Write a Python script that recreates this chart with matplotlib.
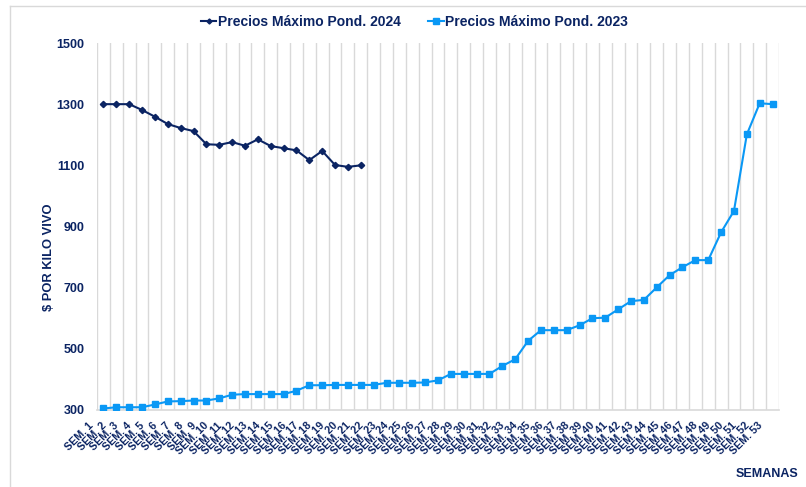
import matplotlib
matplotlib.use('Agg')
import matplotlib.pyplot as plt
import matplotlib.transforms as mtransforms
from matplotlib.lines import Line2D
import numpy as np

plt.rcParams['font.family'] = ['Liberation Sans', 'DejaVu Sans']

weeks = ["SEM. %d" % i for i in range(1, 54)]
precios_2024 = [1300, 1300, 1300, 1281, 1259, 1235, 1222, 1212, 1169, 1167,
                1176, 1164, 1185, 1163, 1156, 1149, 1117, 1147, 1101, 1095, 1100]
precios_2023 = [305, 309, 309, 309, 318, 328, 329, 331, 331, 338,
                350, 352, 352, 352, 352, 363, 381, 381, 382, 382,
                382, 382, 389, 389, 389, 390, 397, 418, 418, 418,
                418, 444, 466, 526, 561, 561, 561, 577, 600, 602,
                629, 656, 660, 701, 741, 767, 790, 790, 881, 951,
                1201, 1303, 1300]
y_ticks = [300, 500, 700, 900, 1100, 1300, 1500]
label_2024 = "Precios Máximo Pond. 2024"
label_2023 = "Precios Máximo Pond. 2023"

navy = '#0B2463'
blue = '#0A98F5'
grid = '#D9D9D9'

W, H = 806, 487
fig = plt.figure(figsize=(W / 100, H / 100), dpi=100)

# chart border
fig.add_artist(Line2D([9.5 / W, 9.5 / W], [0, 1 - 6 / H], transform=fig.transFigure, color=grid, lw=1))
fig.add_artist(Line2D([9.5 / W, 1], [1 - 6 / H, 1 - 6 / H], transform=fig.transFigure, color=grid, lw=1))

ax = fig.add_axes([97 / W, 77 / H, 682 / W, 367 / H])
xi = np.arange(len(weeks))
ax.plot(xi, precios_2023, color=blue, lw=1.5, marker='s', ms=5, label=label_2023, zorder=3)
ax.plot(xi[:len(precios_2024)], precios_2024, color=navy, lw=1.5, marker='D', ms=3.2,
        label=label_2024, zorder=4)

ax.set_xlim(-0.5, len(weeks) - 0.5)
ax.set_ylim(300, 1500)
ax.set_yticks(y_ticks)
ax.set_yticklabels([str(v) for v in y_ticks], fontsize=9, fontweight='bold', color=navy)
ax.tick_params(axis='y', length=0, pad=9)

ax.set_xticks(xi)
ax.set_xticklabels(weeks, rotation=45, ha='right', va='center', rotation_mode='anchor',
                   fontsize=7.7, fontweight='bold', color=navy)
ax.tick_params(axis='x', which='major', length=0, pad=0)
offset = mtransforms.ScaledTranslation(-12 / 100, -14 / 100, fig.dpi_scale_trans)
for lab in ax.get_xticklabels():
    lab.set_transform(lab.get_transform() + offset)

ax.set_xticks(np.arange(-0.5, len(weeks), 1), minor=True)
ax.tick_params(axis='x', which='minor', length=0)
ax.grid(which='minor', axis='x', color=grid, lw=1)
ax.grid(which='major', axis='both', visible=False)
for s in ['top', 'right', 'left']:
    ax.spines[s].set_visible(False)
ax.spines['bottom'].set_color(grid)
ax.spines['bottom'].set_linewidth(1.2)

fig.text(49 / W, 1 - 257 / H, "$ POR KILO VIVO", rotation=90, ha='center', va='center',
         fontsize=9.3, fontweight='bold', color=navy)
fig.text(798 / W, 1 - 474 / H, "SEMANAS", ha='right', va='center',
         fontsize=9, fontweight='bold', color=navy)

h, l = ax.get_legend_handles_labels()
order = [1, 0]
fig.legend([h[i] for i in order], [l[i] for i in order], loc='center',
           bbox_to_anchor=(414.5 / W, 1 - 21.7 / H), ncol=2, frameon=False,
           prop={'size': 10, 'weight': 'bold'}, labelcolor=navy,
           handlelength=1.1, handletextpad=0.1, columnspacing=2.0, markerscale=0.8)

fig.savefig('out.png', dpi=100)
